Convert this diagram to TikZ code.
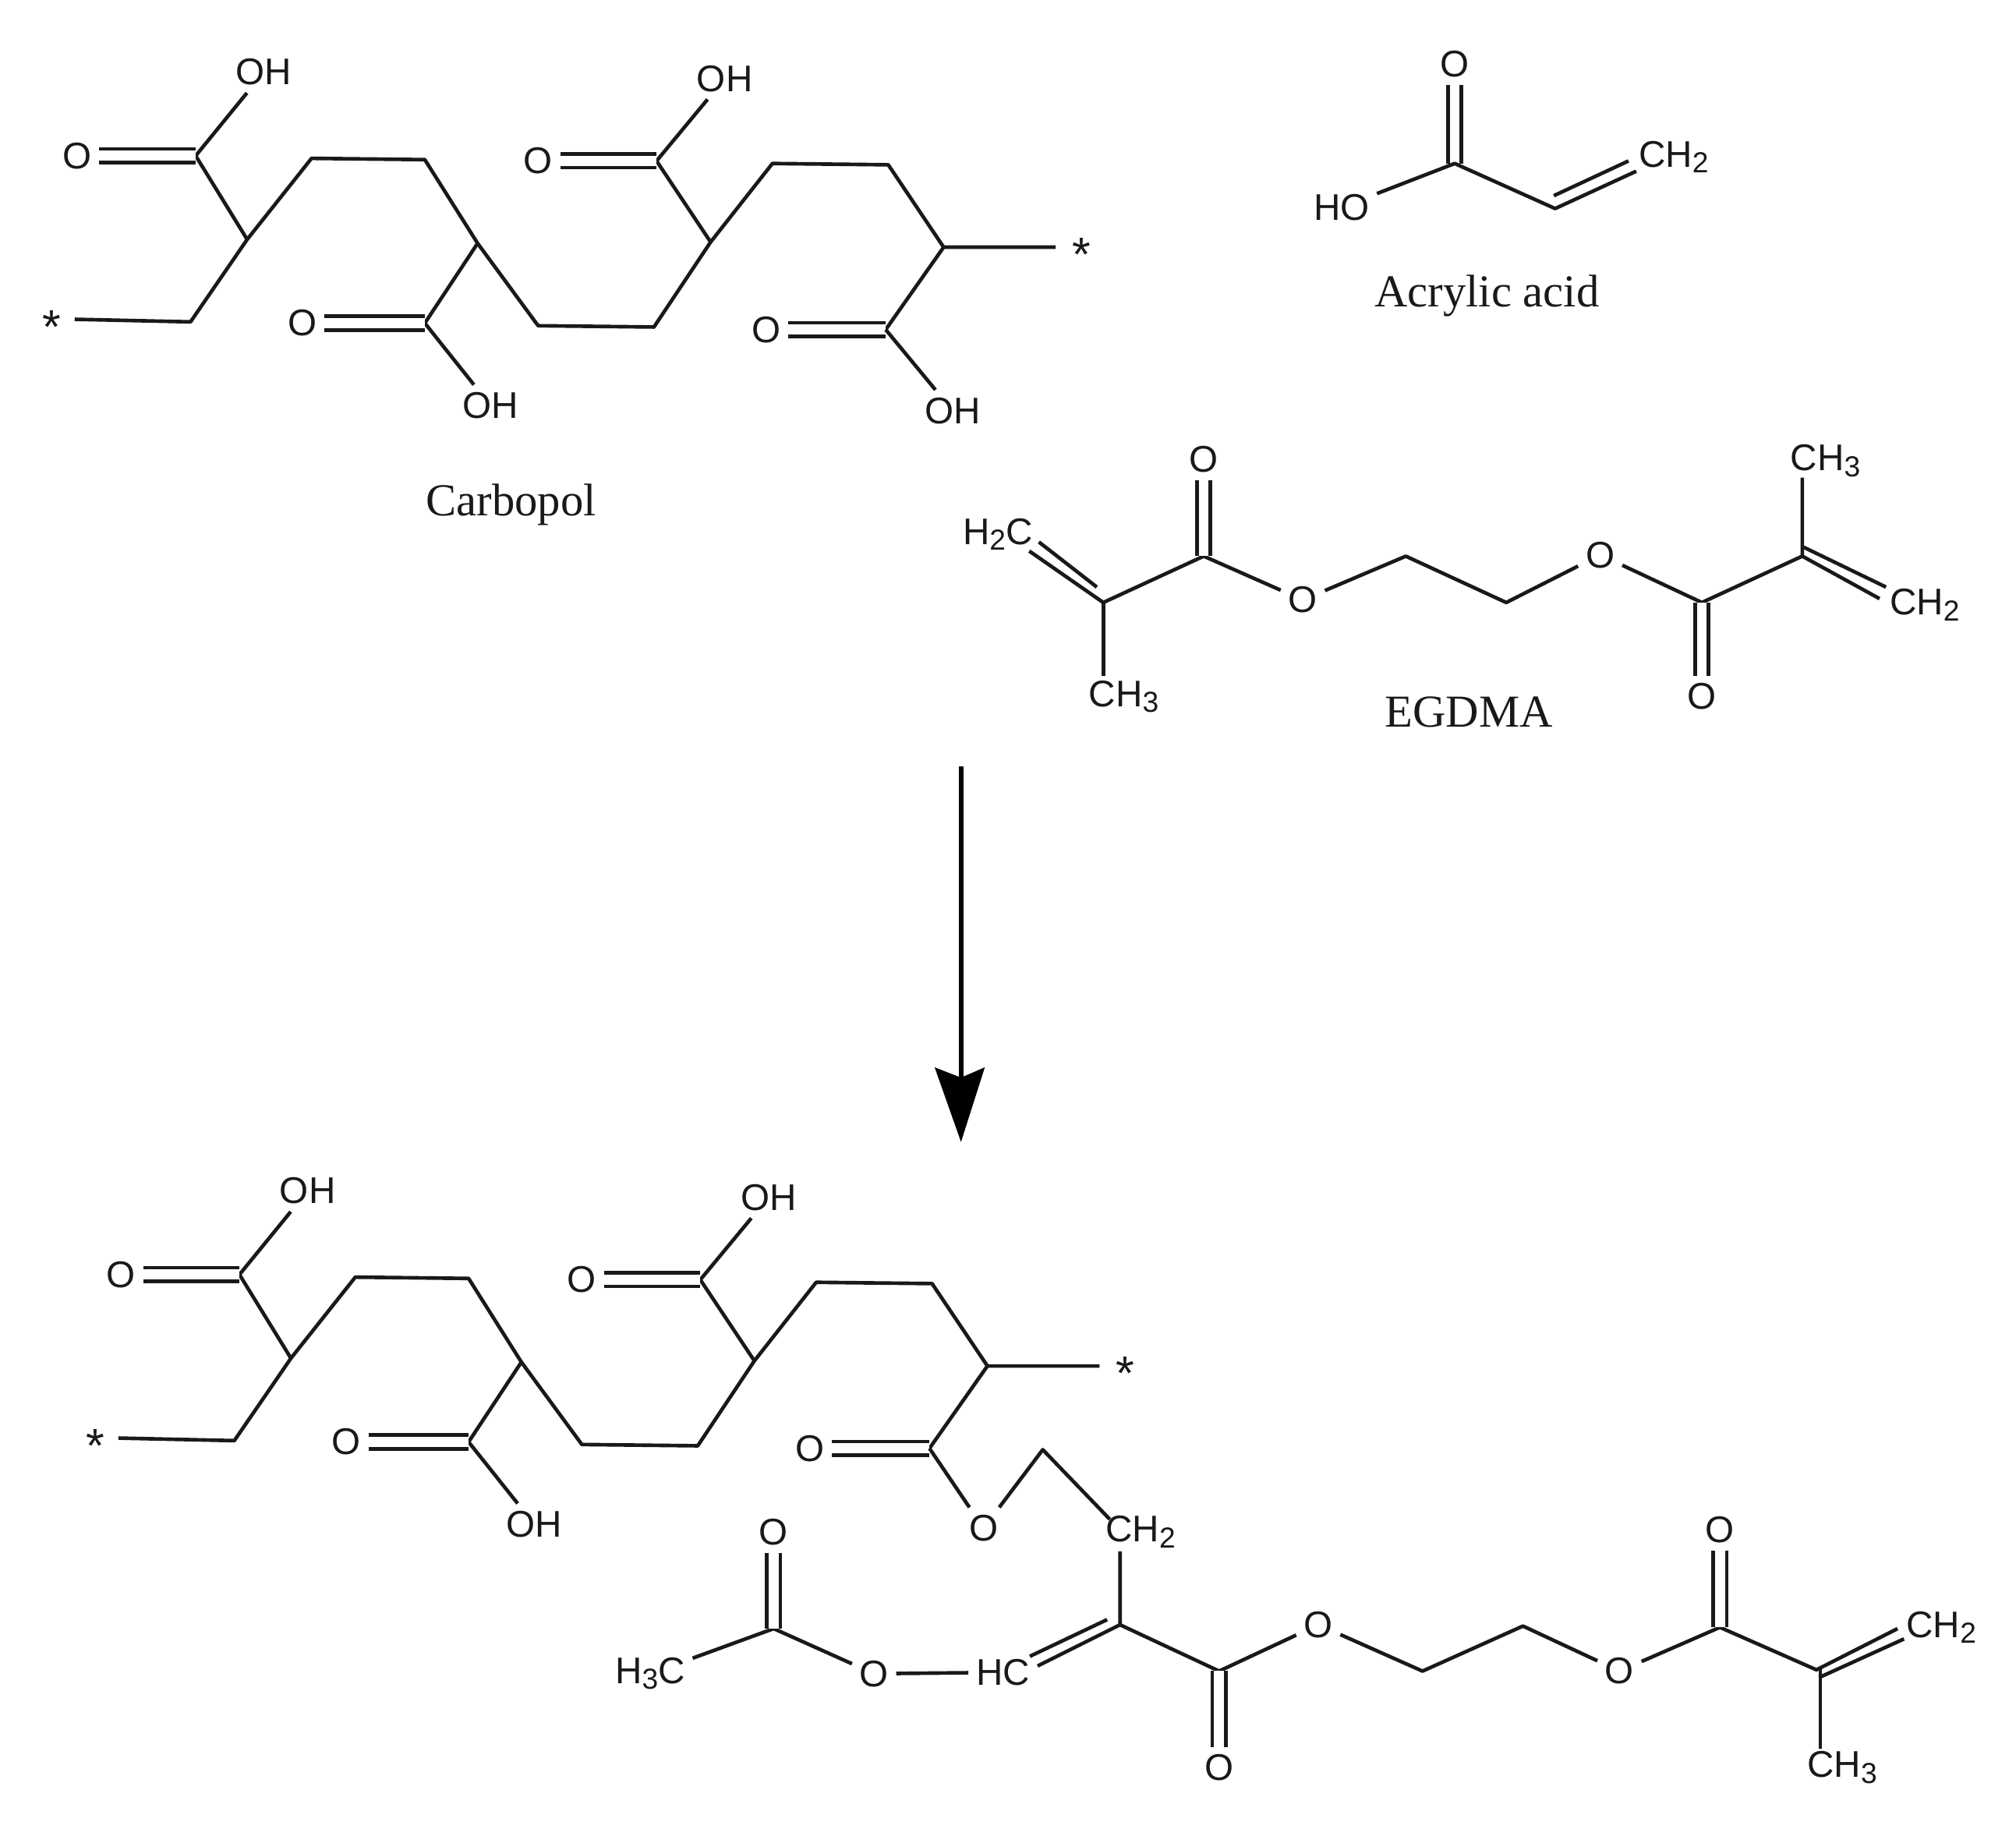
\documentclass[tikz,border=0pt]{standalone}
\usepackage{fontspec}
\setmainfont{Liberation Serif}
\newfontfamily\atomfont{Liberation Sans}
\newcommand{\sub}[1]{\raisebox{-0.3ex}{\fontsize{6.4}{7}\selectfont #1}}
\newcommand{\acidchain}[2]{%
 \begin{scope}[shift={(#1)},name prefix=#2]
  \node[starmark] (s1) at (40,254) {*};
  \coordinate (s1e) at (58,248);
  \coordinate (a1) at (148,250);
  \coordinate (a2) at (192,186);
  \coordinate (c1) at (152,121);
  \node[atom] (o1) at (60,121) {O};
  \node[atom] (h1) at (205,56) {OH};
  \coordinate (a3) at (242,123);
  \coordinate (a4) at (330,124);
  \coordinate (a5) at (371,189);
  \coordinate (c2) at (330,251);
  \node[atom] (o2) at (235,251) {O};
  \node[atom] (h2) at (381,315) {OH};
  \coordinate (a6) at (418,253);
  \coordinate (a7) at (508,254);
  \coordinate (a8) at (552,188);
  \coordinate (c3) at (510,125);
  \node[atom] (o3) at (418,125) {O};
  \node[atom] (h3) at (563,61) {OH};
  \coordinate (a9) at (600,127);
  \coordinate (a10) at (690,128);
  \coordinate (a11) at (733,192);
  \node[starmark] (s2) at (840,198) {*};
  \coordinate (s2w) at (820,192);
  \coordinate (c4) at (688,256);
  \node[atom] (o4) at (595,256) {O};
  \draw[bond] (s1e) -- (a1) -- (a2) -- (c1) -- (h1);
  \draw[bond] (a2) -- (a3) -- (a4) -- (a5) -- (c2) -- (h2);
  \draw[bond] (a5) -- (a6) -- (a7) -- (a8) -- (c3) -- (h3);
  \draw[bond] (a8) -- (a9) -- (a10) -- (a11) -- (s2w);
  \draw[bond] (a11) -- (c4);
  \draw[dbl] (c1) -- (o1);
  \draw[dbl] (c2) -- (o2);
  \draw[dbl] (c3) -- (o3);
  \draw[dbl] (c4) -- (o4);
 \end{scope}}
\begin{document}
\begin{tikzpicture}[x=0.01cm,y=-0.01cm,
  atom/.style={font=\atomfont\fontsize{8.2}{10}\selectfont,inner sep=1.5pt,text=black!90},
  starmark/.style={font=\atomfont\fontsize{10.5}{12}\selectfont,inner sep=1pt,text=black!90},
  lbl/.style={font=\fontsize{10.1}{12}\selectfont,inner sep=1pt,text=black!90},
  bond/.style={line width=0.8pt,black!90,line join=round},
  dbl/.style={line width=0.8pt,black!90,double=white,double distance=2.2pt,line cap=butt},
  arrowline/.style={line width=1.1pt,black}]
\useasboundingbox (0,0) rectangle (1566,1415);
\fill[white] (0,0) rectangle (1566,1415);
% Carbopol
\acidchain{0,0}{p-}
\node[atom] (p-h4) at (740,319) {OH};
\draw[bond] (p-c4) -- (p-h4);
\node[lbl] (carbopol) at (397,392) {Carbopol};
% Acrylic acid
\node[atom] (aaO) at (1130,50) {O};
\node[atom] (aaHO) at (1042,161) {HO};
\node[atom] (aaCH) at (1300,122) {CH\sub{2}};
\coordinate (aaC) at (1130,127);
\coordinate (aaV) at (1208,162);
\coordinate (aaVe) at (1271,133);
\coordinate (aaVa) at (1207,152);
\coordinate (aaVb) at (1265,125);
\draw[dbl] (aaC) -- (aaO);
\draw[bond] (aaHO) -- (aaC) -- (aaV) -- (aaVe);
\draw[bond] (aaVa) -- (aaVb);
\node[lbl] (aalabel) at (1155,230) {Acrylic acid};
% EGDMA
\node[atom] (eH) at (775,415) {H\sub{2}C};
\coordinate (e1) at (857,468);
\coordinate (e1a) at (799.5,428);
\coordinate (e1b) at (807,421);
\coordinate (e1c) at (852,456);
\node[atom] (eM1) at (873,541) {CH\sub{3}};
\coordinate (e2) at (935,432);
\node[atom] (eO1) at (935,357) {O};
\node[atom] (eO2) at (1012,466) {O};
\coordinate (e3) at (1092,432);
\coordinate (e4) at (1170,468);
\node[atom] (eO3) at (1243,431) {O};
\coordinate (e5) at (1322,468);
\node[atom] (eO4) at (1322,541) {O};
\coordinate (e6) at (1400,432);
\coordinate (e6a) at (1460,465);
\coordinate (e6b) at (1401,425);
\coordinate (e6c) at (1465,456);
\node[atom] (eM2) at (1418,358) {CH\sub{3}};
\node[atom] (eCH) at (1495,470) {CH\sub{2}};
\coordinate (eM1t) at (857,525);
\coordinate (eM2t) at (1400,371);
\draw[bond] (e1a) -- (e1);
\draw[bond] (e1b) -- (e1c);
\draw[bond] (e1) -- (eM1t);
\draw[bond] (e1) -- (e2) -- (eO2) -- (e3) -- (e4) -- (eO3) -- (e5) -- (e6) -- (eM2t);
\draw[dbl] (e2) -- (eO1);
\draw[dbl] (e5) -- (eO4);
\draw[bond] (e6) -- (e6a);
\draw[bond] (e6b) -- (e6c);
\node[lbl] (elabel) at (1141,553) {EGDMA};
% reaction arrow
\coordinate (arS) at (746.5,595);
\coordinate (arE) at (746.5,887);
\coordinate (arN) at (746.5,837);
\coordinate (arL) at (726,829);
\coordinate (arR) at (765,829);
\draw[arrowline] (arS) -- (arN);
\fill[black] (arE) -- (arL) -- (arN) -- (arR) -- cycle;
% product
\acidchain{34,869}{q-}
\node[atom] (pO1) at (764,1187) {O};
\coordinate (p1) at (810,1126);
\node[atom] (pCH) at (886,1190) {CH\sub{2}};
\coordinate (p2) at (870,1262);
\coordinate (p2t) at (870,1205);
\coordinate (p3) at (862,1180);
\coordinate (p2a) at (806,1294);
\coordinate (p2b) at (860,1258);
\coordinate (p2c) at (800,1286.5);
\node[atom] (pHC) at (779,1299) {HC};
\node[atom] (pO2) at (679,1300) {O};
\coordinate (p4) at (601,1265);
\node[atom] (pO3) at (601,1190) {O};
\node[atom] (pH3C) at (505,1300) {H\sub{3}C};
\coordinate (p5) at (947,1298);
\node[atom] (pO4) at (947,1373) {O};
\node[atom] (pO5) at (1024,1262) {O};
\coordinate (p6) at (1105,1298);
\coordinate (p7) at (1183,1263);
\node[atom] (pO6) at (1258,1298) {O};
\coordinate (p8) at (1336,1264);
\node[atom] (pO7) at (1336,1188) {O};
\coordinate (p9) at (1411,1297);
\coordinate (p9v) at (1414,1296);
\coordinate (p9b) at (1414,1358);
\coordinate (p9c) at (1474,1265);
\coordinate (p9d) at (1413,1303);
\coordinate (p9e) at (1479,1273);
\node[atom] (pM) at (1431,1373) {CH\sub{3}};
\node[atom] (pCH2) at (1508,1264) {CH\sub{2}};
\draw[bond] (q-c4) -- (pO1) -- (p1) -- (p3);
\draw[bond] (p2t) -- (p2) -- (p5) -- (pO5) -- (p6) -- (p7) -- (pO6) -- (p8) -- (p9) -- (p9c);
\draw[bond] (p9v) -- (p9b);
\draw[bond] (p2) -- (p2a);
\draw[bond] (p2b) -- (p2c);
\draw[bond] (pHC) -- (pO2) -- (p4) -- (pH3C);
\draw[dbl] (p4) -- (pO3);
\draw[dbl] (p5) -- (pO4);
\draw[dbl] (p8) -- (pO7);
\draw[bond] (p9d) -- (p9e);
\end{tikzpicture}
\end{document}
